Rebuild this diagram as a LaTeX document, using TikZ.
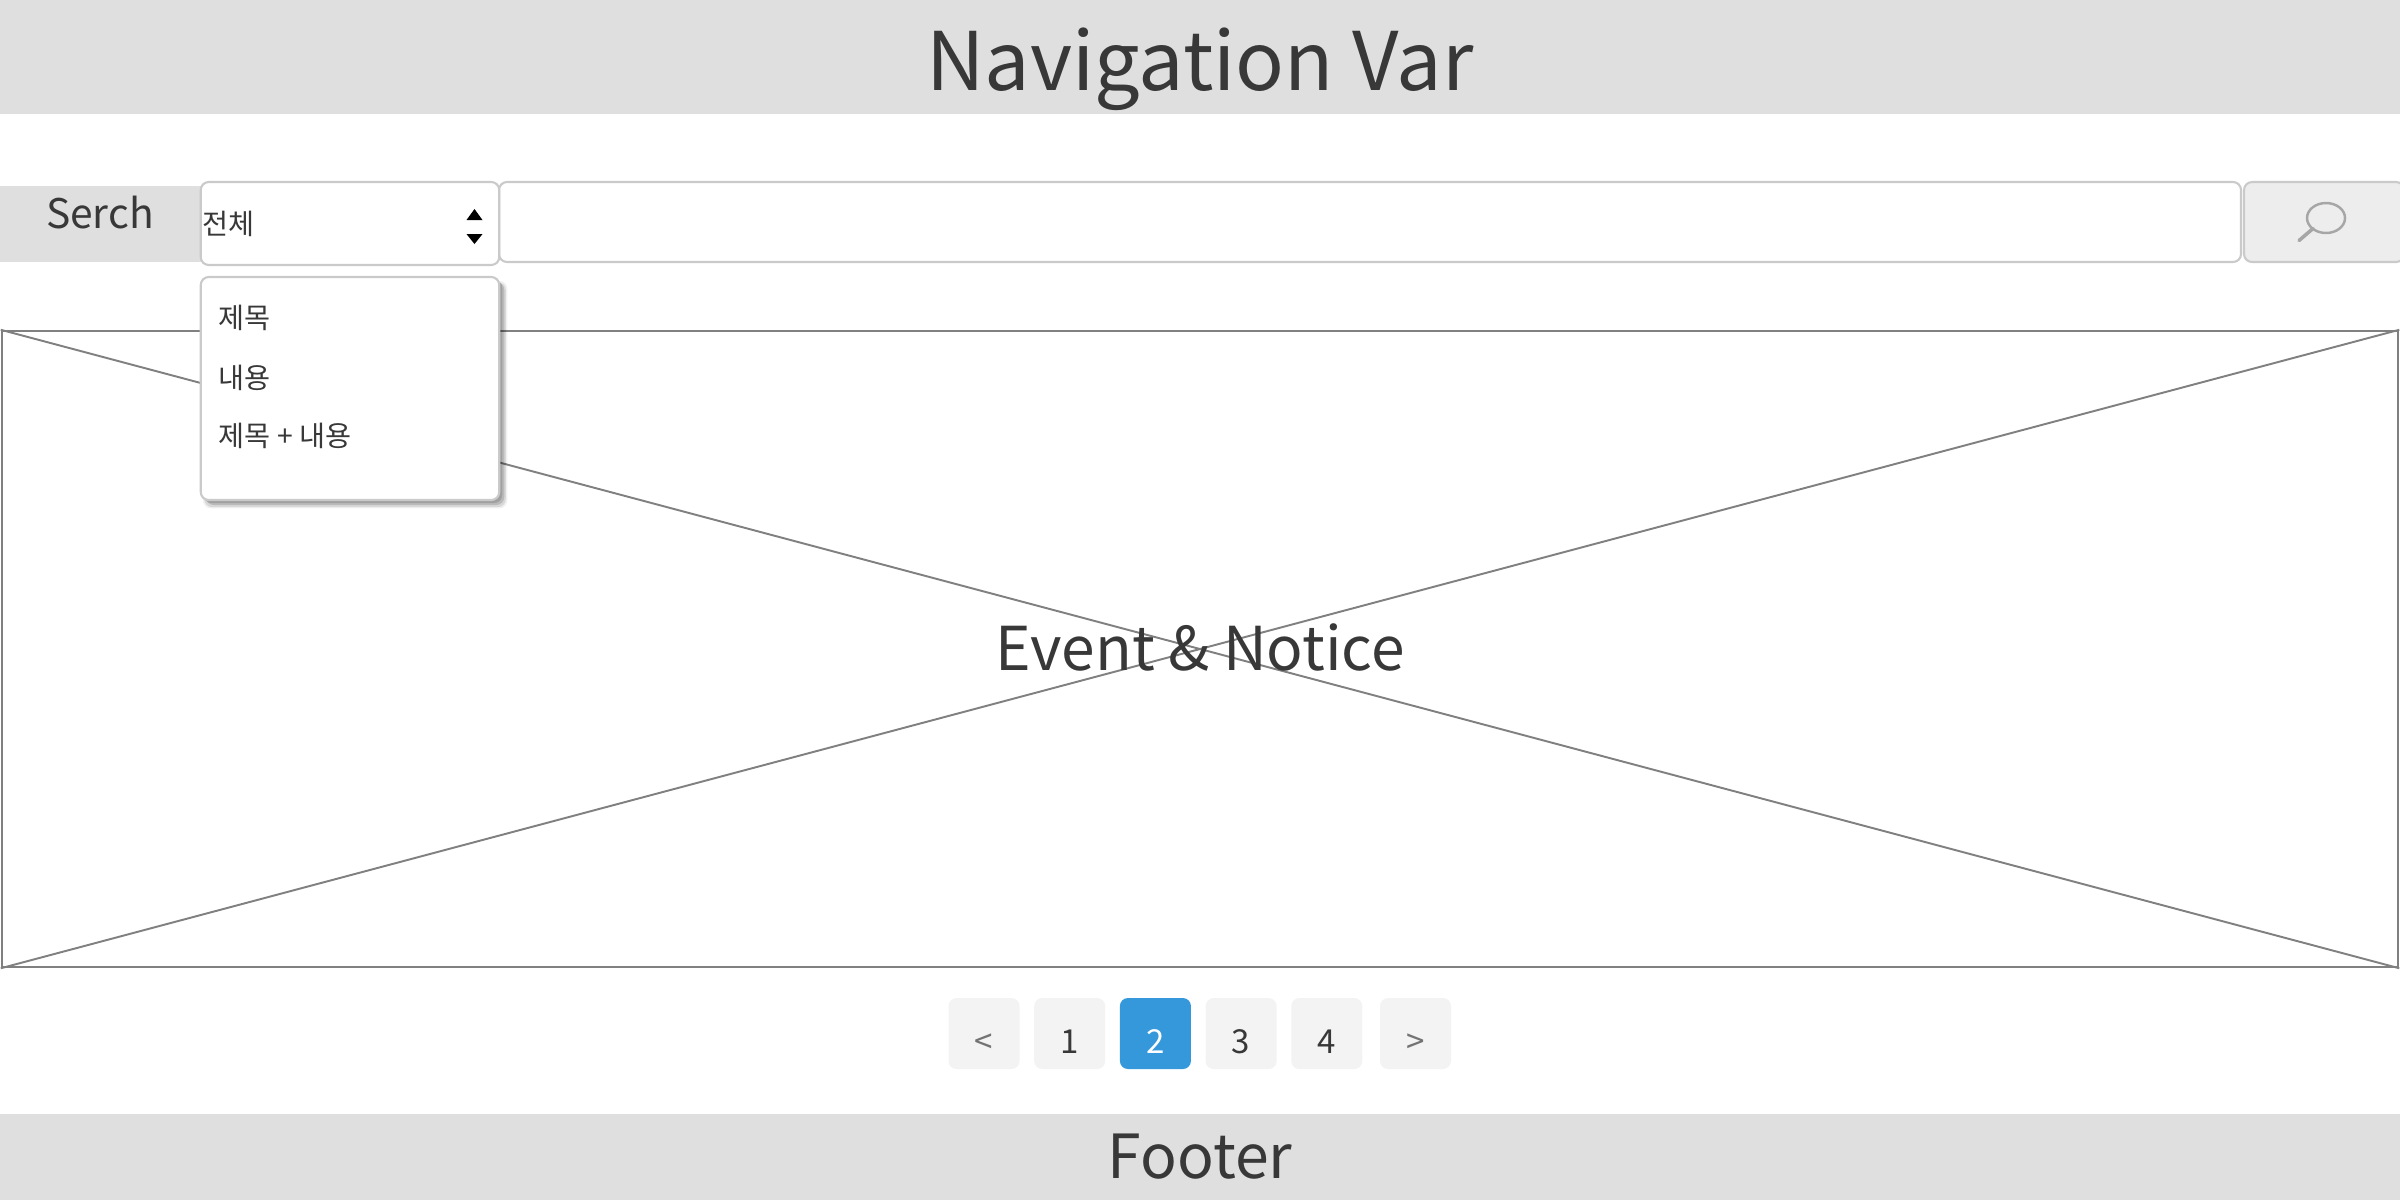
\documentclass[tikz,border=0pt]{standalone}
\usepackage{fontspec}
\setmainfont{Noto Sans CJK KR}
\usetikzlibrary{positioning,shadows}
\definecolor{bandgray}{HTML}{DFDFDF}
\definecolor{textgray}{HTML}{383838}
\definecolor{linegray}{HTML}{808080}
\definecolor{bordergray}{HTML}{CACACA}
\definecolor{pagegray}{HTML}{F3F3F3}
\definecolor{pageblue}{HTML}{3498DB}
\begin{document}
\begin{tikzpicture}[node distance=0.857cm,
  band/.style={fill=bandgray, minimum width=24cm, inner sep=0pt, text=textgray},
  field/.style={draw=bordergray, line width=0.6pt, rounded corners=0.08cm, fill=white, inner sep=0pt},
  pagebox/.style={fill=pagegray, rounded corners=0.08cm, minimum width=0.71cm, minimum height=0.71cm, inner sep=0pt, text=textgray, text height=11.4pt, text depth=0pt, font=\fontsize{9.4}{11}\selectfont},
  menuitem/.style={anchor=west, inner sep=0pt, text=textgray, font=\fontsize{8.05}{10}\selectfont}]

  \useasboundingbox (0,0) rectangle (24,-12);

  % Bands
  \node[band, minimum height=1.14cm, text height=24pt, text depth=5pt, font=\fontsize{23}{28}\selectfont] (nav) at (12,-0.57) {Navigation Var};
  \node[band, minimum height=0.86cm, font=\fontsize{17.3}{21}\selectfont] (footer) at (12,-11.57) {Footer};

  % Placeholder
  \node[draw=linegray, line width=0.7pt, minimum width=23.96cm, minimum height=6.36cm, inner sep=0pt] (board) at (12,-6.49) {};
  \draw[draw=linegray, line width=0.55pt] (board.north west) -- (board.south east);
  \draw[draw=linegray, line width=0.55pt] (board.south west) -- (board.north east);
  \node[text=textgray, inner sep=0pt, font=\fontsize{17.2}{21}\selectfont] (event) at (12,-6.475) {Event \& Notice};

  % Search row
  \node[fill=bandgray, minimum width=2.01cm, minimum height=0.76cm, inner sep=0pt] (searchband) at (1.005,-2.24) {};
  \node[text=textgray, inner sep=0pt, font=\fontsize{11.6}{14}\selectfont] (searchlabel) at (1,-2.125) {Serch};
  \node[field, minimum width=17.42cm, minimum height=0.8cm] (input) at (13.7,-2.22) {};
  \node[field, fill=pagegray!85!bordergray, minimum width=1.6cm, minimum height=0.8cm] (button) at (23.24,-2.22) {};
  \node[field, minimum width=2.985cm, minimum height=0.83cm] (select) at (3.5,-2.235) {};
  \node[menuitem, right=0.02cm of select.west] (all) {전체};
  \fill (4.745,-2.09) -- (4.825,-2.2) -- (4.665,-2.2) -- cycle;
  \fill (4.745,-2.44) -- (4.825,-2.34) -- (4.665,-2.34) -- cycle;

  % Magnifier
  \draw[draw=black!35, line width=0.7pt] (23.26,-2.18) ellipse (0.19cm and 0.15cm);
  \draw[draw=black!35, line width=1pt, line cap=round] (22.99,-2.405) -- (23.13,-2.285);

  % Dropdown
  \node[field, general shadow={shadow xshift=0.05cm, shadow yshift=-0.06cm, shadow scale=1.02, fill=black, opacity=0.06},
    general shadow={shadow xshift=0.05cm, shadow yshift=-0.06cm, shadow scale=1.01, fill=black, opacity=0.1},
    general shadow={shadow xshift=0.05cm, shadow yshift=-0.05cm, fill=black, opacity=0.14},
    general shadow={shadow xshift=0.03cm, shadow yshift=-0.03cm, fill=black, opacity=0.14},
    minimum width=2.985cm, minimum height=2.23cm] (menu) at (3.5,-3.885) {};
  \node[menuitem] (title) at (2.18,-3.175) {제목};
  \node[menuitem] (content) at (2.18,-3.775) {내용};
  \node[menuitem] (both) at (2.18,-4.355) {제목 + 내용};

  % Pagination
  \node[pagebox, text=black!55] (prev) at (9.84,-10.335) {<};
  \node[pagebox, right of=prev] (p1) {1};
  \node[pagebox, fill=pageblue, text=white, right of=p1] (p2) {2};
  \node[pagebox, right of=p2] (p3) {3};
  \node[pagebox, right of=p3] (p4) {4};
  \node[pagebox, text=black!55, right of=p4, xshift=0.03cm] (next) {>};

\end{tikzpicture}
\end{document}
